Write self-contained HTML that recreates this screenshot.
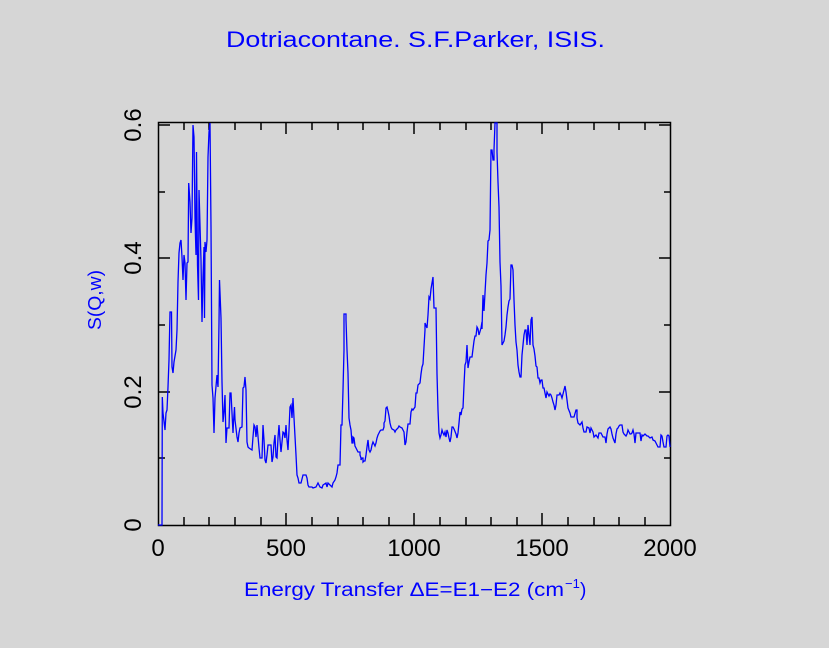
<!DOCTYPE html>
<html><head><meta charset="utf-8"><style>
html,body{margin:0;padding:0;background:#d6d6d6;}
svg{display:block;}
text{font-family:"Liberation Sans",sans-serif;}
</style></head><body>
<svg width="829" height="648" viewBox="0 0 829 648" xmlns="http://www.w3.org/2000/svg">
<rect width="829" height="648" fill="#d6d6d6"/>
<text x="226" y="47" fill="#0000ff" font-size="22" textLength="379" lengthAdjust="spacingAndGlyphs">Dotriacontane. S.F.Parker, ISIS.</text>
<text x="244" y="596" fill="#0000ff" font-size="19" textLength="320" lengthAdjust="spacingAndGlyphs">Energy Transfer ΔE=E1−E2 (cm</text>
<text x="565" y="588" fill="#0000ff" font-size="13">−1</text>
<text x="580" y="596" fill="#0000ff" font-size="19">)</text>
<text transform="translate(101,300) rotate(-90)" fill="#0000ff" font-size="18" text-anchor="middle" textLength="60" lengthAdjust="spacingAndGlyphs">S(Q,w)</text>
<g fill="#000" font-size="24" text-anchor="middle">
<text x="158" y="556">0</text>
<text x="286" y="556">500</text>
<text x="414" y="556">1000</text>
<text x="542" y="556">1500</text>
<text x="670" y="556">2000</text>
<text transform="translate(141,525) rotate(-90)">0</text>
<text transform="translate(141,392) rotate(-90)">0.2</text>
<text transform="translate(141,258) rotate(-90)">0.4</text>
<text transform="translate(141,125) rotate(-90)">0.6</text>
</g>
<g stroke="#000" stroke-width="1.5" fill="none">
<rect x="158.5" y="122.5" width="512" height="403"/>
<path d="M184,525v-8M209,525v-8M235,525v-8M261,525v-8M286,525v-12M312,525v-8M338,525v-8M363,525v-8M389,525v-8M414,525v-12M440,525v-8M466,525v-8M491,525v-8M517,525v-8M542,525v-12M568,525v-8M594,525v-8M619,525v-8M645,525v-8
M184,122v8M209,122v8M235,122v8M261,122v8M286,122v12M312,122v8M338,122v8M363,122v8M389,122v8M414,122v12M440,122v8M466,122v8M491,122v8M517,122v8M542,122v12M568,122v8M594,122v8M619,122v8M645,122v8
M158,458h7M158,392h12M158,325h7M158,258h12M158,192h7M158,125h12
M670,458h-6M670,392h-11M670,325h-6M670,258h-11M670,192h-6M670,125h-11"/>
</g>
<polyline fill="none" stroke="#0000ff" stroke-width="1.3" points="
158,525 162,525 162.3,397 163,413 165,430 166,413 167,410 168,387 169,360 170,312 171.5,312 172,367 173,373 174,362 176,350 177,330 178,282 179,253 180,243 181,240 182,257 183,280 184,255 185,263 186,300 187,263 188,262 188.7,183 190,202 191,233 192,218 193,125 194,137 195,218 196,255 196.5,152 197.5,265 198.5,300 199,190 201,260 202,322 203,277 204,247 204.5,318 205,242 206,252 207,240 208,157 209,132 210,123 211,227 212,385 213,398 214,433 215,398 217,375 218,387 219,323 219.5,280 221,318 222,382 223,422 224,412 225,395 226,443 227,428 229,428 230,393 231,393 232,413 233,433 233.5,422 234.5,407 235,420 237,437 238,442 239,433 240,428 242,427 243,388 244,387 245,377 246,390 247,442 248,447 249,448 252,450 253,437 254,425 255,427 256,437 257,425 259,448 260,458 262,458 263,425 264,440 265,460 266,463 267,455 268,445 271,445 272,462 273,457 274,443 275,435 276,457 277,458 278,438 279,425 280,440 281,452 282,442 283,432 284,433 285,438 286,425 287,440 288,450 289,430 290,407 291,405 292,418 293,398 294,418 296,455 297,475 298,478 299,483 301,483 303,475 306,475 307,478 308,485 309,487 312,487 313,488 316,487 318,483 320,487 322,488 323,485 326,483 327,487 328,483 330,485 332,487 333,483 335,480 336,477 337,473 338,465 340,465 341,425 342,425 343,390 344,350 344,314 346,314 346,320 347,350 348,373 349,418 350,425 351,430 352,443 353,443 353,437 354,438 355,446 356,448 357,450 358,452 360,452 360,455 361,458 361,460 362,458 363,458 363,462 364,461 365,461 366,455 367,447 368,440 369,450 370,452 371,450 372,445 373,442 374,444 375,446 376,443 377,438 378,435 379,433 380,431 381,430 383,430 384,427 384,423 385,421 386,408 387,407 388,411 389,416 390,423 391,427 392,429 394,430 395,432 396,430 398,428 399,426 400,427 402,428 404,432 405,445 406,442 407,432 408,424 410,424 411,412 412,409 413,410 415,407 416,393 417,393 418,385 420,383 421,374 422,367 423,364 424,347 425,330 425,323 427,328 428,315 429,297 430,299 431,289 432,283 433,277 434,308 436,308 437,374 438,410 439,433 440,438 441,435 442,430 443,433 444,435 445,432 446,437 447,430 448,433 449,438 450,442 451,437 452,427 453,427 454,429 456,434 457,438 458,433 459,423 460,412 461,415 462,409 463,408 464,385 465,365 466,362 467,345 468,368 469,362 470,357 472,357 474,341 475,336 476,336 477,327 478,329 479,335 481,328 482,322 482,329 483,295 484,311 486,275 487,263 488,241 489,240 490,230 491,150 492,150 493,160 494,160 494,150 495,123 497,123 497,152 498,182 499,207 500,262 501,286 502,345 503,343 504,341 505,335 506,327 507,315 508,307 509,301 510,299 511,265 512,265 513,270 514,300 515,325 516,342 517,350 518,365 519,372 520,377 521,377 522,355 523,345 524,335 525,330 526,330 527,345 528,325 529,335 530,345 531,320 532,317 533,345 534,349 535,356 536,366 537,367 538,378 539,378 540,383 541,380 542,380 543,388 544,388 545,393 546,398 547,392 548,394 549,396 550,394 551,395 552,398 553,402 554,405 555,410 556,405 557,395 559,395 560,393 561,395 562,398 564,390 565,386 566,392 568,408 570,413 571,417 572,417 574,417 576,410 577,410 577,418 578,423 580,425 582,422 583,428 584,432 586,432 587,427 589,428 590,433 591,428 593,432 594,437 596,435 598,438 599,433 601,433 603,437 605,437 606,443 607,434 608,429 610,427 611,429 612,434 613,438 615,443 616,434 617,429 618,428 619,426 620,425 622,425 623,432 624,434 625,435 626,436 627,434 628,430 630,434 631,434 632,433 633,430 634,434 635,443 636,433 637,433 640,433 641,441 642,435 643,436 644,435 645,434 647,436 648,436 650,438 652,437 653,440 655,441 656,443 657,445 658,447 660,447 661,435 662,436 663,442 664,447 666,447 667,436 668,435 669,436 670,447"/>
</svg>
</body></html>
